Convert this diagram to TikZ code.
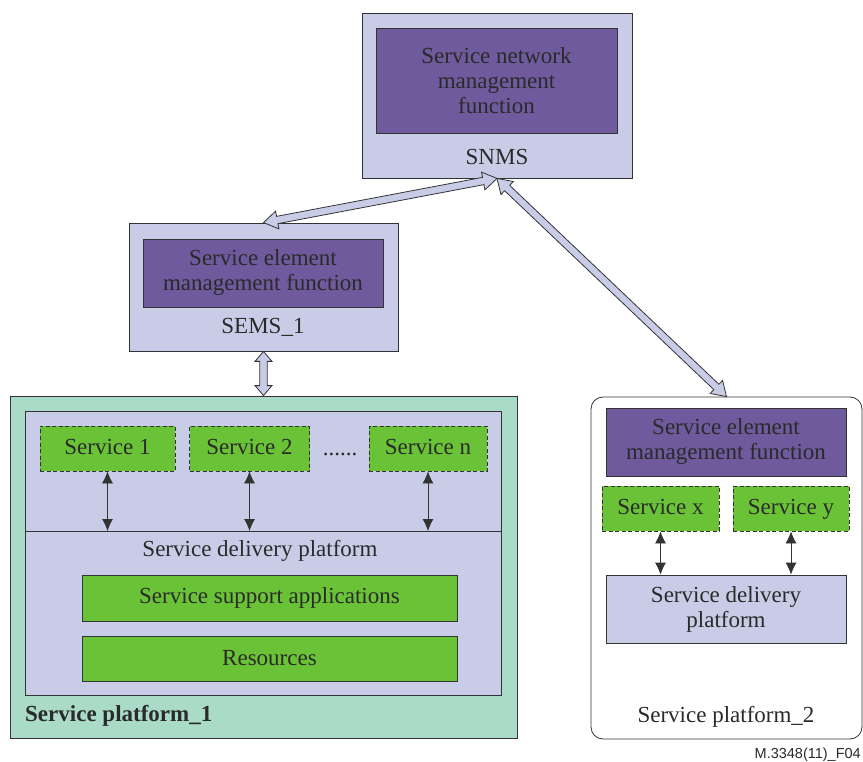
\documentclass[tikz,border=0pt]{standalone}
\usepackage{fontspec}
\setmainfont{Liberation Serif}
\newfontfamily\labelfont{Liberation Sans}
\usetikzlibrary{calc,arrows.meta}
\definecolor{lav}{HTML}{C8CCE6}
\definecolor{purp}{HTML}{6E5A9C}
\definecolor{grn}{HTML}{6AC336}
\definecolor{mint}{HTML}{AADBC8}
\definecolor{linec}{HTML}{333333}
\definecolor{txt}{HTML}{2A2A2A}
\tikzset{
  box/.style={draw=linec, line width=0.8pt, inner sep=0pt, align=center, text=txt,
    font=\fontsize{23}{25}\selectfont},
  lavbox/.style={box, fill=lav},
  purpbox/.style={box, fill=purp},
  grnbox/.style={box, fill=grn},
  svcbox/.style={box, fill=grn, dash pattern=on 4pt off 2.5pt, minimum height=45pt,
    text height=16pt, text depth=5pt},
  lbl/.style={inner sep=0pt, text=txt, font=\fontsize{23}{25}\selectfont, align=center},
  fatarr/.style={draw=linec, fill=lav, line width=0.8pt, line join=miter},
  thinarr/.style={draw=linec, line width=0.8pt, {Latex[length=12pt,width=11pt]}-{Latex[length=12pt,width=11pt]}}
}
\newcommand\fatarrow[4]{% from, to, head length, half head width
  \draw[fatarr] (#1)
   -- ($(#1)!#3!(#2)!#4!90:(#2)$) -- ($(#1)!#3!(#2)!3.7pt!90:(#2)$)
   -- ($(#2)!#3!(#1)!3.7pt!-90:(#1)$) -- ($(#2)!#3!(#1)!#4!-90:(#1)$)
   -- (#2)
   -- ($(#2)!#3!(#1)!#4!90:(#1)$) -- ($(#2)!#3!(#1)!3.7pt!90:(#1)$)
   -- ($(#1)!#3!(#2)!3.7pt!-90:(#2)$) -- ($(#1)!#3!(#2)!#4!-90:(#2)$)
   -- cycle;}
\begin{document}
\begin{tikzpicture}[x=1pt,y=-1pt]
\useasboundingbox (0,0) rectangle (863,762);

% SNMS
\node[lavbox, minimum width=270pt, minimum height=165pt] (snms) at (497,95.5) {};
\node[purpbox, minimum width=241pt, minimum height=105pt] (snmf) at (496.5,80.5)
  {Service network\\management\\function};
\node[lbl] (snmslbl) at (497,157) {SNMS};

% SEMS_1
\node[lavbox, minimum width=269pt, minimum height=128pt] (sems1) at (263.5,287) {};
\node[purpbox, minimum width=240pt, minimum height=68pt] (semf1) at (263,273)
  {Service element\\management function};
\node[lbl] (sems1lbl) at (263,327) {SEMS\_1};

% Service platform 1
\node[box, fill=mint, minimum width=507pt, minimum height=342pt] (p1) at (263.5,567) {};
\node[lavbox, minimum width=476pt, minimum height=284pt] (p1in) at (263,553) {};
\coordinate (divL) at (25,531);
\coordinate (divR) at (501,531);
\draw[draw=linec, line width=0.8pt] (divL) -- (divR);
\node[svcbox, minimum width=135pt] (s1) at (107.5,448.5) {Service 1};
\node[svcbox, minimum width=120pt] (s2) at (249.5,448.5) {Service 2};
\node[svcbox, minimum width=118pt] (sn) at (428,448.5) {Service n};
\node[lbl, anchor=base] (dots) at (340,455) {......};
\draw[thinarr] (s1.south) -- (s1.south |- divL);
\draw[thinarr] (s2.south) -- (s2.south |- divL);
\draw[thinarr] (sn.south) -- (sn.south |- divL);
\node[lbl] (sdp1) at (260,551) {Service delivery platform};
\node[grnbox, minimum width=375pt, minimum height=46pt] (ssa) at (269.5,598) {Service support applications};
\node[grnbox, minimum width=375pt, minimum height=45pt] (res) at (269.5,658.5) {Resources};
\node[lbl, anchor=west, font=\fontsize{23}{25}\selectfont\bfseries] (p1lbl) at (25,716) {Service platform\_1};

% Service platform 2
\node[box, fill=white, rounded corners=12pt, minimum width=271pt, minimum height=342pt] (p2) at (726.5,568) {};
\node[purpbox, minimum width=240pt, minimum height=68pt] (semf2) at (726,442)
  {Service element\\management function};
\node[svcbox, minimum width=117pt] (sx) at (660.5,508.5) {Service x};
\node[svcbox, minimum width=116pt] (sy) at (791,508.5) {Service y};
\node[lavbox, minimum width=240pt, minimum height=68pt] (sdp2) at (726,609)
  {Service delivery\\platform};
\draw[thinarr] (sx.south) -- (sx.south |- sdp2.north);
\draw[thinarr] (sy.south) -- (sy.south |- sdp2.north);
\node[lbl] (p2lbl) at (726,717) {Service platform\_2};

% fat arrows
\fatarrow{snms.south}{sems1.north}{14pt}{9pt}
\fatarrow{snms.south}{p2.north}{14pt}{9pt}
\fatarrow{sems1.south}{p1.north}{10pt}{8.5pt}

\node[inner sep=0pt, anchor=east, text=txt, font=\labelfont\fontsize{14.5}{16}\selectfont] (fig) at (861,755) {M.3348(11)\_F04};
\end{tikzpicture}
\end{document}
